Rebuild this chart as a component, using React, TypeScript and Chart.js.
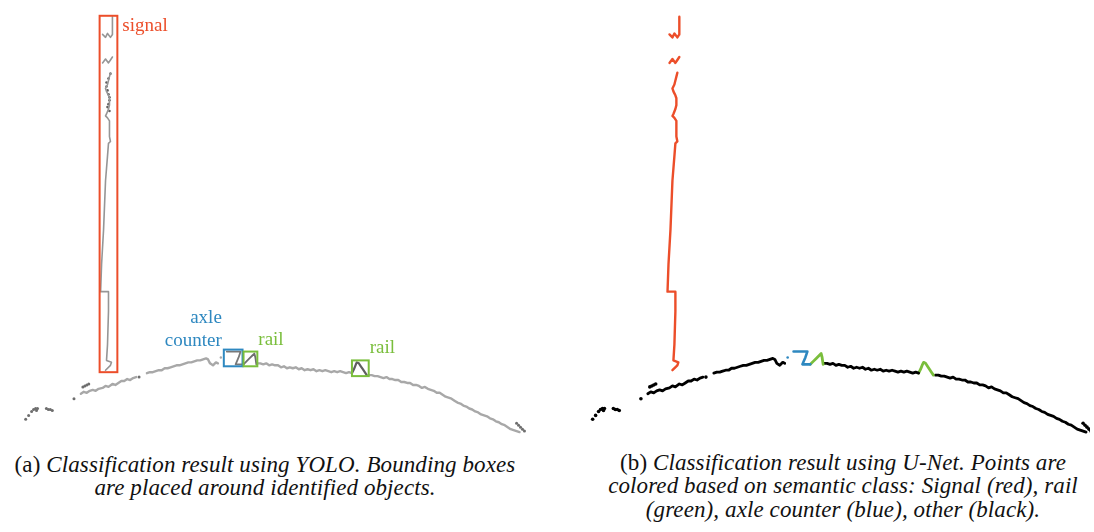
import { useEffect, useRef } from "react";
import { Chart, registerables } from "chart.js";

Chart.register(...registerables);

type P = [number, number];

const SERIF = '"Liberation Serif", Tinos, "Times New Roman", "Nimbus Roman", "DejaVu Serif", serif';

// ---- scan points: [lateral position, height] (scan units) ----
const signalTop: P[] = [[110, 427], [110, 418], [110, 409], [108, 406], [105, 410], [103, 406], [100, 409]];
const signalMid: P[] = [[100, 380], [103, 384], [106, 380], [108, 383], [110, 386]];
const signalPole: P[] = [
  [108, 370], [107, 366], [106, 362], [105, 358], [103, 354], [104, 351], [105, 349], [106, 347],
  [107, 344], [107, 341], [107, 337], [106, 333], [104, 328], [103, 326], [105, 324], [107, 321],
  [107, 313], [107, 305], [108, 300], [106, 298], [105, 285], [103, 260], [101, 210], [99, 175],
  [98, 147], [106, 147], [106, 127], [105, 93], [104, 77], [109, 75], [108, 72], [103, 67],
];
const signalDense: P[] = [
  [108, 369], [106, 364], [104, 360], [104, 356], [105, 352], [106, 348], [107, 345], [107, 342],
  [106, 338], [105, 335], [107, 331],
];
const groundLeft: P[] = [
  [78, 43], [81, 45], [84, 44], [87, 46], [90, 47], [93, 46], [96, 48], [100, 49], [103, 51],
  [106, 50], [110, 53], [113, 52], [116, 54], [119, 56], [122, 56], [125, 58], [128, 57], [131, 59], [134, 60],
];
const groundCentre: P[] = [
  [145, 64], [148, 65], [151, 65], [154, 66], [157, 67], [160, 67], [163, 69], [166, 69], [169, 70],
  [172, 71], [175, 72], [178, 72], [181, 73], [184, 74], [187, 75], [190, 75], [193, 76], [196, 77],
  [199, 77], [202, 78], [205, 79], [207, 78], [209, 74], [212, 72], [215, 75], [217, 74],
];
const axleCounterPts: P[] = [[226, 86], [233, 86], [240, 86], [238, 80], [235, 73], [239, 73], [243, 73]];
const axleCounterStray: P[] = [[220, 80]];
const rail1Pts: P[] = [[243, 73], [246, 76], [249, 79], [252, 82], [254, 84], [255, 80], [256, 73]];
const groundMid: P[] = [
  [257, 74], [260, 74], [263, 73], [266, 74], [269, 72], [272, 73], [275, 72], [278, 72], [281, 70],
  [284, 71], [287, 69], [290, 70], [293, 69], [296, 70], [299, 68], [302, 69], [305, 67], [308, 68],
  [311, 67], [314, 68], [317, 66], [320, 67], [323, 66], [326, 67], [329, 66], [332, 65], [335, 66],
  [338, 65], [341, 66], [344, 65], [347, 64], [350, 65], [353, 64],
];
const rail2Pts: P[] = [[353, 64], [355, 68], [357, 73], [358, 75], [360, 74], [362, 71], [364, 68], [366, 65], [368, 62]];
const groundRight: P[] = [
  [370, 62], [373, 62], [376, 61], [379, 61], [382, 60], [385, 59], [388, 60], [391, 58], [394, 58],
  [397, 57], [400, 57], [403, 55], [406, 55], [409, 54], [412, 54], [415, 52], [418, 52], [421, 51],
  [424, 49], [427, 50], [430, 48], [433, 47], [436, 46], [439, 44], [442, 44], [445, 42], [448, 40],
  [451, 39], [454, 38], [457, 36], [460, 34], [463, 33], [466, 31], [469, 30], [472, 28], [475, 27],
  [478, 25], [481, 24], [484, 22], [487, 21], [490, 20], [493, 18], [496, 17], [499, 15], [502, 14],
  [505, 12], [508, 11], [511, 9], [514, 7], [517, 6], [520, 5], [523, 4],
];
const strayPts: P[] = [
  [22, 17], [25, 21], [28, 25], [30, 27], [32, 28], [34, 28], [33, 26], [43, 28], [45, 27], [47, 27],
  [49, 26], [71, 38], [80, 50], [82, 51], [84, 52], [86, 53], [137, 60], [520, 13], [522, 11], [524, 9],
  [526, 7], [528, 5],
];

// ---- YOLO detections: [x0, x1, y0, y1] ----
const boxClasses = ["signal", "axle", "rail", "rail"];
const boxLabels = [["signal"], ["axle", "counter"], ["rail"], ["rail"]];
const boxExtents: [number, number, number, number][] = [
  [97, 115, 65, 428],
  [223, 242, 71, 88],
  [243, 257, 71, 86],
  [353, 370, 61, 77],
];

const RED = "rgb(236,78,42)";
const BLUE = "rgb(46,136,192)";
const GREEN = "rgb(122,190,60)";

const toXY = (a: P[]) => a.map(([x, y]) => ({ x, y }));

function lineDs(data: P[], color: string, width: number) {
  return {
    data: toXY(data),
    showLine: true,
    borderColor: color,
    backgroundColor: color,
    borderWidth: width,
    pointRadius: 0,
    tension: 0,
    borderJoinStyle: "round",
    borderCapStyle: "round",
  };
}
function dotDs(data: P[], color: string, r: number) {
  return {
    data: toXY(data),
    showLine: false,
    backgroundColor: color,
    borderWidth: 0,
    pointRadius: r,
  };
}

const boxPlugin = {
  id: "yoloBoxes",
  afterDatasetsDraw(chart: any) {
    const { ctx, scales } = chart;
    const xs = scales.x;
    const ys = scales.y;
    const colors: Record<string, string> = { signal: RED, axle: BLUE, rail: GREEN };
    ctx.save();
    ctx.font = "19px " + SERIF;
    boxExtents.forEach((b, i) => {
      const cls = boxClasses[i];
      const c = colors[cls];
      const l = xs.getPixelForValue(b[0]);
      const r = xs.getPixelForValue(b[1]);
      const t = ys.getPixelForValue(b[3]);
      const btm = ys.getPixelForValue(b[2]);
      ctx.strokeStyle = c;
      ctx.lineWidth = 2;
      ctx.strokeRect(l, t, r - l, btm - t);
      ctx.fillStyle = c;
      ctx.textBaseline = "alphabetic";
      const lab = boxLabels[i];
      if (cls === "signal") {
        ctx.textAlign = "left";
        ctx.fillText(lab[0], r + 5, t + 15);
      } else if (cls === "axle") {
        ctx.textAlign = "right";
        ctx.fillText(lab[0], l - 2, t - 27);
        ctx.fillText(lab[1], l - 2, t - 4);
      } else {
        ctx.textAlign = "left";
        ctx.fillText(lab[0], r + 1, t - 7);
      }
    });
    ctx.restore();
  },
};

function buildDatasets(variant: "a" | "b") {
  if (variant === "a") {
    const g = "rgb(168,168,168)";
    const s = "rgb(150,150,150)";
    const d = "rgb(95,95,95)";
    return [
      lineDs(signalTop, s, 1.6),
      lineDs(signalMid, s, 1.6),
      lineDs(signalPole, s, 1.6),
      dotDs(signalDense, d, 1.3),
      lineDs(groundLeft, g, 2.4),
      lineDs(groundCentre, g, 2.4),
      lineDs(axleCounterPts, "rgb(120,120,120)", 1.8),
      dotDs(axleCounterStray, g, 1.2),
      lineDs(rail1Pts, "rgb(110,110,110)", 1.8),
      lineDs(groundMid, g, 2.4),
      lineDs(rail2Pts, d, 2.2),
      lineDs(groundRight, g, 2.4),
      dotDs(strayPts, "rgb(110,110,110)", 1.5),
    ];
  }
  const k = "#000";
  return [
    lineDs(signalTop, RED, 2.4),
    lineDs(signalMid, RED, 2.4),
    lineDs(signalPole, RED, 2.4),
    lineDs(groundLeft, k, 2.8),
    lineDs(groundCentre, k, 2.8),
    lineDs(axleCounterPts, BLUE, 2.6),
    dotDs(axleCounterStray, BLUE, 1.3),
    lineDs(rail1Pts, GREEN, 2.8),
    lineDs(groundMid, k, 2.8),
    lineDs(rail2Pts, GREEN, 2.8),
    lineDs(groundRight, k, 2.8),
    dotDs(strayPts, k, 1.8),
  ];
}

function Panel({ variant, left, width, xMax }: { variant: "a" | "b"; left: number; width: number; xMax: number }) {
  const ref = useRef<HTMLCanvasElement>(null);
  useEffect(() => {
    if (!ref.current) return;
    const chart = new Chart(ref.current, {
      type: "scatter",
      data: { datasets: buildDatasets(variant) as any },
      options: {
        responsive: false,
        animation: false,
        devicePixelRatio: 1,
        layout: { padding: 0 },
        plugins: { legend: { display: false }, tooltip: { enabled: false }, title: { display: false } },
        scales: {
          x: { type: "linear", min: 0, max: xMax, display: false },
          y: { type: "linear", min: 0, max: 440, display: false },
        },
      },
      plugins: variant === "a" ? [boxPlugin] : [],
    });
    return () => chart.destroy();
  }, [variant, xMax]);
  return (
    <canvas
      ref={ref}
      width={width}
      height={440}
      style={{ position: "absolute", left, top: 0, width, height: 440 }}
    />
  );
}

const captionStyle: any = {
  position: "absolute",
  width: 640,
  textAlign: "center",
  fontFamily: SERIF,
  fontSize: 23,
  lineHeight: "23.5px",
  letterSpacing: "0.1px",
  color: "#111",
  whiteSpace: "nowrap",
};

export default function App() {
  useEffect(() => {
    document.body.style.margin = "0";
  }, []);
  return (
    <div
      style={{
        position: "fixed",
        left: 0,
        top: 0,
        width: 1094,
        height: 532,
        overflow: "hidden",
        background: "#fff",
      }}
    >
      <Panel variant="a" left={0} width={560} xMax={560} />
      <Panel variant="b" left={567} width={527} xMax={527} />
      <div style={{ ...captionStyle, left: 265 - 320, top: 452.5 }}>
        <span>(a) </span>
        <i>Classification result using YOLO. Bounding boxes</i>
        <br />
        <i>are placed around identified objects.</i>
      </div>
      <div style={{ ...captionStyle, left: 843 - 320, top: 450.5 }}>
        <span>(b) </span>
        <i>Classification result using U-Net. Points are</i>
        <br />
        <i>colored based on semantic class: Signal (red), rail</i>
        <br />
        <i>(green), axle counter (blue), other (black).</i>
      </div>
    </div>
  );
}
